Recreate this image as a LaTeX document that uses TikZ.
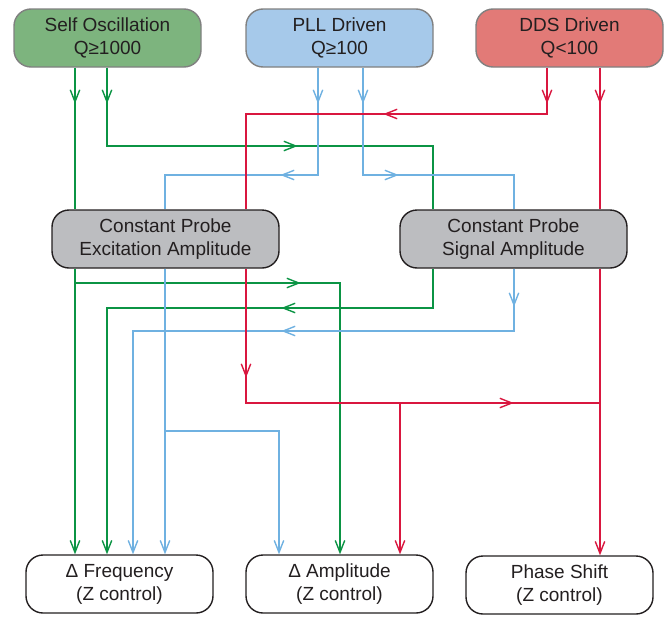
\documentclass[tikz,border=0pt]{standalone}
\usepackage{fontspec}
\setmainfont{Liberation Sans}
\usetikzlibrary{arrows.meta,decorations.markings}

\definecolor{selfgreen}{HTML}{7DB47E}
\definecolor{pllblue}{HTML}{A6C9EA}
\definecolor{ddsred}{HTML}{E27A77}
\definecolor{probegray}{HTML}{BCBDC0}
\definecolor{inkgray}{HTML}{231F20}
\definecolor{edgegray}{HTML}{808080}
\definecolor{grnline}{HTML}{0B9444}
\definecolor{bluline}{HTML}{6FB1E1}
\definecolor{redline}{HTML}{D9173F}

\tikzset{
  basebox/.style={rounded corners=17pt, minimum height=58pt, inner sep=0pt,
    align=center, text=inkgray, line width=1.4pt,
    font=\fontsize{19}{23}\selectfont},
  topbox/.style={basebox, draw=edgegray, minimum width=187pt},
  probebox/.style={basebox, draw=inkgray, fill=probegray, minimum width=227pt},
  outbox/.style={basebox, draw=inkgray, fill=white, minimum width=187pt},
  grn/.style={draw=grnline, line width=1.4pt},
  blu/.style={draw=bluline, line width=1.4pt},
  rd/.style={draw=redline, line width=1.4pt},
  tipend/.style={-{Straight Barb[length=12pt,width=9.5pt]}},
  midtip/.style={postaction={decorate,decoration={markings,
    mark=at position #1 with {\arrow{Straight Barb[length=12pt,width=9.5pt]}}}}}
}

\begin{document}
\begin{tikzpicture}[x=1pt,y=-1pt]
  \useasboundingbox (0,0) rectangle (672,616);

  % Draw the source boxes
  \node[topbox, fill=selfgreen] (self) at (107.5,38) {Self Oscillation\\Q≥1000};
  \node[topbox, fill=pllblue] (pll) at (339.5,38) {PLL Driven\\Q≥100};
  \node[topbox, fill=ddsred] (dds) at (569.5,38) {DDS Driven\\Q<100};

  % Draw the two constant probe boxes
  \node[probebox] (excit) at (165.5,239) {Constant Probe\\Excitation Amplitude};
  \node[probebox] (signal) at (513.5,239) {Constant Probe\\Signal Amplitude};

  % Draw the output boxes
  \node[outbox] (dfreq) at (119.5,584) {Δ Frequency\\(Z control)};
  \node[outbox] (damp) at (339.5,584) {Δ Amplitude\\(Z control)};
  \node[outbox] (phase) at (559.5,585) {Phase Shift\\(Z control)};

  % Junction of the red lines above Phase Shift
  \coordinate (rjoin) at (600,403);

  % Inputs to the probe boxes
  \draw[grn, midtip=36pt] (self.south -| 75,0) -- (excit.north -| 75,0);
  \draw[grn, midtip=36pt, midtip=269pt] (self.south -| 107,0) |- (433,146) -- (signal.north -| 433,0);
  \draw[blu, midtip=36pt, midtip=145pt] (pll.south -| 318,0) |- (165,175) -- (excit.north -| 165,0);
  \draw[blu, midtip=36pt, midtip=143pt] (pll.south -| 363,0) |- (514,175) -- (signal.north -| 514,0);
  \draw[rd, midtip=36pt, midtip=210pt] (dds.south -| 547,0) |- (246,114) -- (excit.north -| 246,0);
  \draw[rd, midtip=36pt] (dds.south -| 600,0) -- (signal.north -| 600,0);

  % Outputs to the control boxes
  \draw[grn, tipend] (excit.south -| 75,0) -- (dfreq.north -| 75,0);
  \draw[grn, tipend, midtip=240pt] (excit.south -| 75,0) |- (340,283) -- (damp.north -| 340,0);
  \draw[grn, tipend, midtip=191pt] (signal.south -| 433,0) |- (107,308) -- (dfreq.north -| 107,0);
  \draw[blu, tipend] (excit.south -| 165,0) -- (dfreq.north -| 165,0);
  \draw[blu, tipend] (excit.south -| 165,0) |- (279,431) -- (damp.north -| 279,0);
  \draw[blu, tipend, midtip=38pt, midtip=295pt] (signal.south -| 514,0) |- (133,331) -- (dfreq.north -| 133,0);
  \draw[rd, midtip=109pt, midtip=402pt] (excit.south -| 246,0) |- (rjoin);
  \draw[rd, tipend] (excit.south -| 246,0) |- (400,403) -- (damp.north -| 400,0);
  \draw[rd, tipend] (signal.south -| 600,0) -- (phase.north -| 600,0);
\end{tikzpicture}
\end{document}
